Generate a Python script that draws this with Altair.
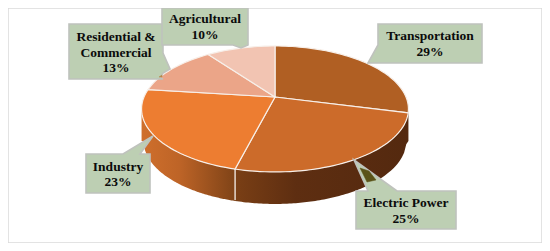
import math
import altair as alt
import pandas as pd

categories = ["Transportation", "Electric Power", "Industry", "Residential & Commercial", "Agricultural"]
shares = [29, 25, 23, 13, 10]
top_colors = ["#B05F23", "#CC6B2A", "#ED7D31", "#EBA588", "#F2C4B2"]

# projection of the tilted disc, in picture pixels
APEX = (275, 97)
A, B, K = 131, 60.7, 0.19
DEPTH = 32

def rim(frac):
    th = 2 * math.pi * frac
    u, v = math.sin(th), math.cos(th)
    w = 1 + K * v
    return APEX[0] + A * u / w, APEX[1] - B * v / w

RX = A / math.sqrt(1 - K * K)
CY = (rim(0)[1] + rim(0.5)[1]) / 2
RY = (rim(0.5)[1] - rim(0)[1]) / 2

xs = alt.Scale(domain=[8, 542], nice=False, zero=False)
ys = alt.Scale(domain=[243, 8], nice=False, zero=False)
X = alt.X("x:Q", scale=xs, axis=None)
Y = alt.Y("y:Q", scale=ys, axis=None)

def closed(points, **mark):
    d = pd.DataFrame([{"i": i, "x": p[0], "y": p[1]} for i, p in enumerate(points)])
    return alt.Chart(d).mark_line(interpolate="linear-closed", **mark).encode(x=X, y=Y, order="i:Q")

# side wall
def wall(x0, x1, stops):
    n = 80
    rows = []
    for i in range(n + 1):
        x = x0 + (x1 - x0) * i / n
        dx = (x - APEX[0]) / RX
        y = CY + RY * math.sqrt(max(0, 1 - dx * dx))
        dx2 = min(1, abs(x - APEX[0]) / (RX - 2))
        y2 = CY + DEPTH + RY * math.sqrt(1 - dx2 * dx2)
        rows.append({"x": x, "y": y, "y2": y2})
    grad = alt.Gradient(gradient="linear", x1=0, x2=1, y1=0, y2=0,
                        stops=[alt.GradientStop(offset=o, color=c) for o, c in stops])
    return alt.Chart(pd.DataFrame(rows)).mark_area(color=grad).encode(x=X, y=Y, y2="y2:Q")

cum = [sum(shares[:i]) / sum(shares) for i in range(len(shares) + 1)]
split_x, split_y = rim(cum[2])
layers = [
    wall(APEX[0] - RX, split_x, [(0, "#CF6F2C"), (0.4, "#BE6427"), (1, "#7F4317")]),
    wall(split_x, APEX[0] + RX, [(0, "#7A3F15"), (0.35, "#5E2E11"), (1, "#54290F")]),
    alt.Chart(pd.DataFrame([{"x": split_x, "y": split_y, "y2": split_y + DEPTH - 1}]))
        .mark_rule(color="#F4EEE8", strokeWidth=1.3).encode(x=X, y=Y, y2="y2:Q"),
]

# top face
for s, col in enumerate(top_colors):
    n = max(8, shares[s] * 2)
    pts = [APEX] + [rim(cum[s] + (cum[s + 1] - cum[s]) * i / n) for i in range(n + 1)]
    layers.append(closed(pts, fill=col, stroke="#F7EFE9", strokeWidth=1.2))

# callouts: box outline including its pointer
label_lines = [
    ["Transportation", "29%"],
    ["Electric Power", "25%"],
    ["Industry", "23%"],
    ["Residential &", "Commercial", "13%"],
    ["Agricultural", "10%"],
]
callouts = [
    [(378, 24), (482, 24), (482, 63), (378, 63), (368, 63), (378, 45)],
    [(356, 191), (368, 191), (354, 160), (397, 191), (456, 191), (456, 229), (356, 229)],
    [(86, 154), (123, 154), (153, 136), (140, 154), (150, 154), (150, 193), (86, 193)],
    [(69, 24), (163, 24), (163, 53), (170, 69), (163, 73), (160, 78), (163, 79), (69, 79)],
    [(162, 8), (248, 8), (248, 45), (241, 48), (233, 45), (162, 45)],
]
text_anchor = [(430, [36, 52]), (406, [203, 219]), (118, [167, 182]), (116, [37, 53, 68]), (205, [19, 35])]

for c in callouts:
    layers.append(closed(c, fill="#BDCFB3", stroke="#BFC2BD", strokeWidth=1.6))

# pointer parts where the box tint falls over the pie
layers.append(closed([(360, 168), (369, 171), (376, 180), (367, 182)], fill="#5A5319", stroke="#5A5319", strokeWidth=0.5))
layers.append(closed([(159, 77), (162, 75), (162, 77)], fill="#B5894A", stroke="#B5894A", strokeWidth=0.5))

rows = []
for lines, (tx, tys) in zip(label_lines, text_anchor):
    for t, ty in zip(lines, tys):
        rows.append({"x": tx, "y": ty, "t": t})
layers.append(
    alt.Chart(pd.DataFrame(rows))
    .mark_text(font="Liberation Serif", fontWeight="bold", fontSize=13.5, color="#0B0B0B", baseline="middle", align="center")
    .encode(x=X, y=Y, text="t:N")
)

chart = (
    alt.layer(*layers)
    .properties(width=534, height=235, padding=0, background="white",
                autosize=alt.AutoSizeParams(type="none"))
    .configure_view(stroke="#DADADA", strokeWidth=1.5)
)
chart.save("out.html", embed_options={"renderer": "svg", "actions": False})
